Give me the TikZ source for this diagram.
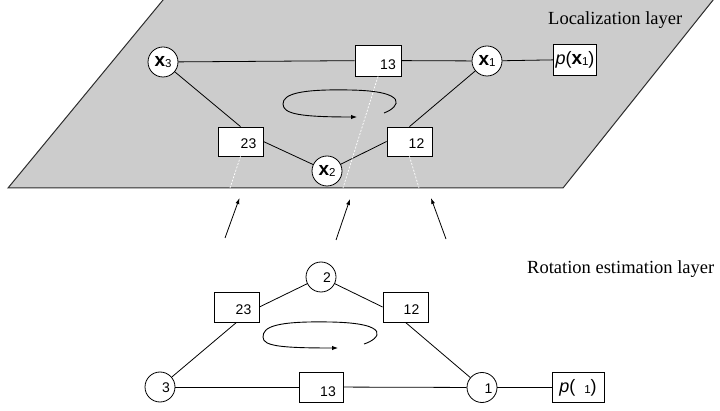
\documentclass[tikz,border=0pt]{standalone}
\usepackage{fontspec}
\setmainfont{Liberation Serif}
\newfontfamily\dsans{Liberation Sans}
\usetikzlibrary{arrows.meta}
\definecolor{layergray}{RGB}{204,204,204}
\definecolor{edgegray}{RGB}{45,45,45}
\newcommand{\bvec}[1]{{\dsans\bfseries\fontsize{19}{19}\selectfont x}\raisebox{-1.5pt}{\dsans\fontsize{11.5}{11.5}\selectfont #1}}
\begin{document}
\begin{tikzpicture}[x=1pt,y=-1pt,
  circ/.style={circle,draw=black,line width=0.8pt,fill=white,minimum size=30pt,inner sep=0pt},
  fbox/.style={rectangle,draw=black,line width=0.8pt,fill=white,minimum width=45pt,minimum height=30pt,inner sep=0pt},
  pbox/.style={rectangle,draw=black,line width=0.8pt,fill=white,minimum height=31pt,inner sep=2pt,font=\dsans\fontsize{18}{18}\selectfont},
  dig/.style={inner sep=0pt,font=\dsans\fontsize{14}{14}\selectfont},
  conn/.style={draw=black,line width=0.8pt},
  dotline/.style={draw=white,line width=0.7pt,dash pattern=on 2pt off 1.5pt},
  uparrow/.style={draw=black,line width=0.8pt,-{Latex[length=6pt,width=4pt]}},
  looparrow/.style={draw=black,line width=0.9pt,-{Latex[length=6pt,width=4.5pt]}},
  layertext/.style={anchor=base west,inner sep=0pt,font=\fontsize{18.5}{20}\selectfont}]
\clip (0,0) rectangle (720,411);
% localization plane
\fill[layergray] (165.5,-3) -- (715.5,-3) -- (563,188) -- (8,188) -- cycle;
\draw[edgegray,line width=1pt,line join=miter] (165.5,-3) -- (8,188) -- (563,188) -- (715.5,-3);
\node[layertext] (loclabel) at (548,25) {Localization layer};
\node[layertext] (rotlabel) at (527,274) {Rotation estimation layer};

% top layer nodes
\node[circ] (x3) at (163,62) {\bvec{3}};
\node[circ] (x1) at (487,61) {\bvec{1}};
\node[circ] (x2) at (327,171) {\bvec{2}};
\node[fbox,minimum height=31pt,minimum width=46pt] (b13) at (378,60.5) {};
\node[fbox,minimum height=29pt] (b23) at (240.5,141.5) {};
\node[fbox,minimum height=29pt] (b12) at (409.5,141.5) {};
\node[pbox] (px1) at (575,59.5) {\textit{p}(\bvec{1})};
\node[dig] (t13) at ([shift={(10,4.5)}]b13.center) {13};
\node[dig] (t23) at ([shift={(8,2.5)}]b23.center) {23};
\node[dig] (t12) at ([shift={(7,2.5)}]b12.center) {12};

% top connectors
\draw[conn] (x3) -- (b13);
\draw[conn] (b13) -- (x1);
\draw[conn] (x1) -- (px1);
\draw[conn] (x3) -- (b23.north);
\draw[conn] (b23.east) -- (x2);
\draw[conn] (x2) -- (b12.west);
\draw[conn] (b12.north) -- (x1);

% projection dotted lines
\coordinate (d23) at (230,188);
\coordinate (d13) at (343,188);
\coordinate (d12) at (419,188);
\draw[dotline] (b23.south) -- (d23);
\draw[dotline] (b13.south) -- (d13);
\draw[dotline] (b12.south) -- (d12);

% top loop
\draw[looparrow] (384,113) .. controls (400,107) and (410,91) .. (350,90)
  .. controls (300,89) and (283,94) .. (283,104)
  .. controls (283,114) and (300,117) .. (357,117);

% arrows between layers
\coordinate (a1s) at (225,238); \coordinate (a1e) at (239.5,198);
\coordinate (a2s) at (336,240); \coordinate (a2e) at (350,199);
\coordinate (a3s) at (446,239); \coordinate (a3e) at (431,198);
\draw[uparrow] (a1s) -- (a1e);
\draw[uparrow] (a2s) -- (a2e);
\draw[uparrow] (a3s) -- (a3e);

% bottom layer nodes
\node[circ] (n2) at (321,277) {};
\node[circ] (n3) at (160,387) {};
\node[circ] (n1) at (482,387.5) {};
\node[fbox] (c23) at (236.5,307) {};
\node[fbox] (c12) at (405.5,307) {};
\node[fbox,minimum width=44pt] (c13) at (321,387) {};
\node[pbox,minimum width=52pt,minimum height=30pt] (q1) at (578,387.5) {\textit{p}(\hspace{9pt}\raisebox{-1.5pt}{\fontsize{11.5}{11.5}\selectfont 1})};
\node[dig] (s2) at ([shift={(6,1)}]n2.center) {2};
\node[dig] (s3) at ([shift={(6,1)}]n3.center) {3};
\node[dig] (s1) at ([shift={(6.5,1)}]n1.center) {1};
\node[dig] (u23) at ([shift={(7,3)}]c23.center) {23};
\node[dig] (u12) at ([shift={(6,3)}]c12.center) {12};
\node[dig] (u13) at ([shift={(7,4.5)}]c13.center) {13};

% bottom connectors
\draw[conn] (n3) -- (c13);
\draw[conn] (c13) -- (n1);
\draw[conn] (n1) -- (q1);
\draw[conn] (n3) -- (c23.south);
\draw[conn] (c23.east) -- (n2);
\draw[conn] (n2) -- (c12.west);
\draw[conn] (c12.south) -- (n1);

% bottom loop
\draw[looparrow] (364,344) .. controls (380,339) and (393,323) .. (330,322)
  .. controls (275,321) and (263,327) .. (263,337)
  .. controls (263,346) and (280,348) .. (338,348);
\end{tikzpicture}
\end{document}
